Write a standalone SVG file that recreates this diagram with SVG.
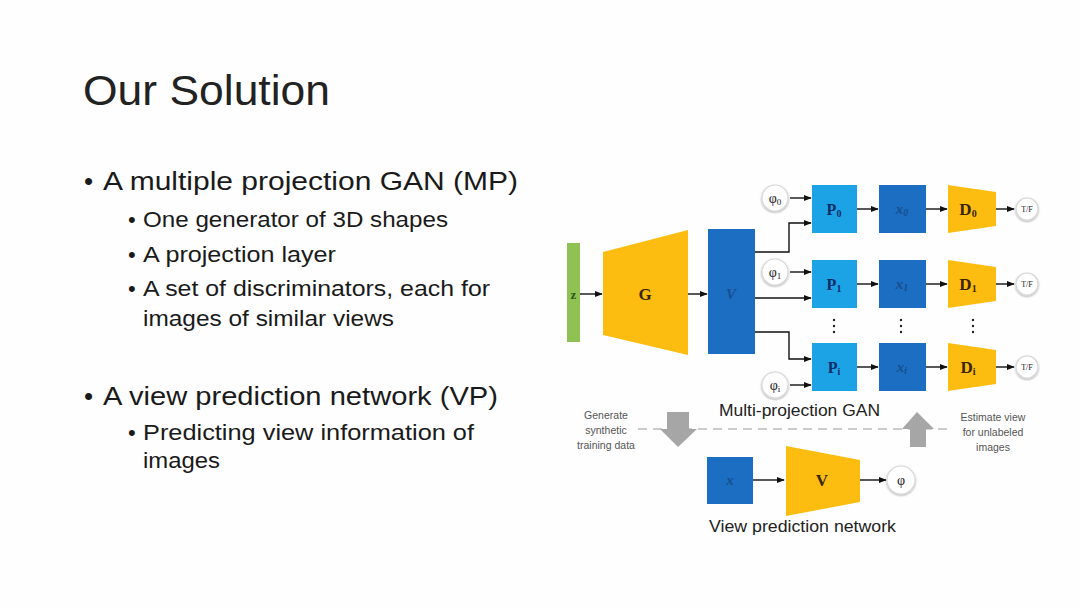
<svg xmlns="http://www.w3.org/2000/svg" width="1080" height="608" viewBox="0 0 1080 608">
<defs>
<marker id="ah" viewBox="0 0 10 10" refX="9" refY="5" markerWidth="8" markerHeight="8" markerUnits="userSpaceOnUse" orient="auto"><path d="M0,1 L10,5 L0,9 z" fill="#111"/></marker>
<filter id="sh" x="-30%" y="-30%" width="160%" height="160%"><feGaussianBlur in="SourceAlpha" stdDeviation="1.2"/><feOffset dx="0" dy="0.5"/><feComponentTransfer><feFuncA type="linear" slope="0.35"/></feComponentTransfer><feMerge><feMergeNode/><feMergeNode in="SourceGraphic"/></feMerge></filter>
</defs>
<style>
.t{font-family:"Liberation Sans",Arial,sans-serif;fill:#1a1a1a}
.h1{font-size:43px;fill:#222}
.b1{font-size:26px}
.b2{font-size:22px}
.cap{font-family:"Liberation Sans",Arial,sans-serif;font-size:16px;fill:#222}
.note{font-family:"Liberation Sans",Arial,sans-serif;font-size:10.5px;fill:#555;text-anchor:middle}
.lbl{font-family:"Liberation Serif","Times New Roman",serif;font-weight:bold;text-anchor:middle}
.yl{fill:#3a2500;font-size:17px}
.pl{fill:#0d2d66;font-size:16px}
.dl{fill:#174f8f;font-size:15px;font-style:italic}
.cir{fill:#fff;stroke:#d8d8d8;stroke-width:1.2}
.ct{font-family:"Liberation Serif","Times New Roman",serif;text-anchor:middle;fill:#222}
.yel{fill:#FDBD10}
.lb{fill:#1CA3E6}
.db{fill:#1B6EC2}
.ln{stroke:#111;stroke-width:1.4;fill:none}
.gray{fill:#a6a6a6}
</style>
<rect width="1080" height="608" fill="#fefefe"/>

<g id="slide-text">
<text class="t h1" x="83" y="105" textLength="247" lengthAdjust="spacingAndGlyphs">Our Solution</text>
<text class="t b1" x="84" y="190">•</text>
<text class="t b1" x="103" y="190" textLength="415" lengthAdjust="spacingAndGlyphs">A multiple projection GAN (MP)</text>
<text class="t b2" x="128" y="227">•</text>
<text class="t b2" x="143" y="227" textLength="305" lengthAdjust="spacingAndGlyphs">One generator of 3D shapes</text>
<text class="t b2" x="128" y="262">•</text>
<text class="t b2" x="143" y="262" textLength="193" lengthAdjust="spacingAndGlyphs">A projection layer</text>
<text class="t b2" x="128" y="296">•</text>
<text class="t b2" x="143" y="296" textLength="347" lengthAdjust="spacingAndGlyphs">A set of discriminators, each for</text>
<text class="t b2" x="143" y="326" textLength="251" lengthAdjust="spacingAndGlyphs">images of similar views</text>
<text class="t b1" x="84" y="405">•</text>
<text class="t b1" x="103" y="405" textLength="395" lengthAdjust="spacingAndGlyphs">A view prediction network (VP)</text>
<text class="t b2" x="128" y="440">•</text>
<text class="t b2" x="143" y="440" textLength="331" lengthAdjust="spacingAndGlyphs">Predicting view information of</text>
<text class="t b2" x="143" y="468" textLength="77" lengthAdjust="spacingAndGlyphs">images</text>
</g>

<g id="connectors">
<line class="ln" x1="580" y1="294" x2="602" y2="294" marker-end="url(#ah)"/>
<line class="ln" x1="688" y1="294" x2="707" y2="294" marker-end="url(#ah)"/>
<polyline class="ln" points="755,252 789,252 789,223 811,223" marker-end="url(#ah)"/>
<line class="ln" x1="755" y1="298" x2="811" y2="298" marker-end="url(#ah)"/>
<polyline class="ln" points="755,332 789,332 789,359 811,359" marker-end="url(#ah)"/>
<line class="ln" x1="790" y1="198" x2="811" y2="198" marker-end="url(#ah)"/>
<line class="ln" x1="790" y1="272" x2="811" y2="272" marker-end="url(#ah)"/>
<line class="ln" x1="790" y1="385" x2="811" y2="385" marker-end="url(#ah)"/>
<line class="ln" x1="857" y1="209" x2="878" y2="209" marker-end="url(#ah)"/>
<line class="ln" x1="857" y1="284" x2="878" y2="284" marker-end="url(#ah)"/>
<line class="ln" x1="857" y1="367" x2="878" y2="367" marker-end="url(#ah)"/>
<line class="ln" x1="926" y1="209" x2="947" y2="209" marker-end="url(#ah)"/>
<line class="ln" x1="926" y1="284" x2="947" y2="284" marker-end="url(#ah)"/>
<line class="ln" x1="926" y1="367" x2="947" y2="367" marker-end="url(#ah)"/>
<line class="ln" x1="996" y1="209" x2="1014" y2="209" marker-end="url(#ah)"/>
<line class="ln" x1="996" y1="284" x2="1014" y2="284" marker-end="url(#ah)"/>
<line class="ln" x1="996" y1="367" x2="1014" y2="367" marker-end="url(#ah)"/>
<line class="ln" x1="753" y1="480" x2="784" y2="480" marker-end="url(#ah)"/>
<line class="ln" x1="860" y1="480" x2="886" y2="480" marker-end="url(#ah)"/>
<line x1="638" y1="429" x2="948" y2="429" stroke="#9a9a9a" stroke-width="1.2" stroke-dasharray="9,6"/>
</g>

<g id="z"><rect x="567" y="243" width="13" height="99" fill="#8FC253"/><text class="lbl" x="573.5" y="299" font-size="13" fill="#2d5a10">z</text></g>
<g id="G"><polygon class="yel" points="603,252 688,230 688,355 603,335"/><text class="lbl yl" x="645" y="300">G</text></g>
<g id="V"><rect class="db" x="708" y="229" width="47" height="125"/><text class="lbl dl" x="731" y="299">V</text></g>

<g id="phi0"><circle class="cir" filter="url(#sh)" cx="775" cy="198" r="13"/><text class="ct" x="775" y="203" font-size="14">φ<tspan font-size="9" dy="2">0</tspan></text></g>
<g id="phi1"><circle class="cir" filter="url(#sh)" cx="775" cy="272" r="13"/><text class="ct" x="775" y="277" font-size="14">φ<tspan font-size="9" dy="2">1</tspan></text></g>
<g id="phii"><circle class="cir" filter="url(#sh)" cx="775" cy="385" r="13"/><text class="ct" x="775" y="390" font-size="14">φ<tspan font-size="9" dy="2">i</tspan></text></g>

<g id="P0"><rect class="lb" x="812" y="185" width="45" height="48"/><text class="lbl pl" x="834" y="215">P<tspan font-size="10" dy="2">0</tspan></text></g>
<g id="P1"><rect class="lb" x="812" y="260" width="45" height="48"/><text class="lbl pl" x="834" y="290">P<tspan font-size="10" dy="2">1</tspan></text></g>
<g id="Pi"><rect class="lb" x="812" y="343" width="45" height="48"/><text class="lbl pl" x="834" y="373">P<tspan font-size="10" dy="2">i</tspan></text></g>

<g id="x0"><rect class="db" x="879" y="185" width="47" height="48"/><text class="lbl dl" x="902" y="214">x<tspan font-size="10" dy="2">0</tspan></text></g>
<g id="x1"><rect class="db" x="879" y="260" width="47" height="48"/><text class="lbl dl" x="902" y="289">x<tspan font-size="10" dy="2">1</tspan></text></g>
<g id="xi"><rect class="db" x="879" y="343" width="47" height="48"/><text class="lbl dl" x="902" y="372">x<tspan font-size="10" dy="2">i</tspan></text></g>

<g id="D0"><polygon class="yel" points="948,185 996,192 996,226 948,233"/><text class="lbl yl" x="968" y="215">D<tspan font-size="10" dy="2">0</tspan></text></g>
<g id="D1"><polygon class="yel" points="948,260 996,267 996,301 948,308"/><text class="lbl yl" x="968" y="290">D<tspan font-size="10" dy="2">1</tspan></text></g>
<g id="Di"><polygon class="yel" points="948,343 996,350 996,384 948,391"/><text class="lbl yl" x="968" y="373">D<tspan font-size="10" dy="2">i</tspan></text></g>

<g id="tf0"><circle class="cir" filter="url(#sh)" cx="1027" cy="209" r="11"/><text class="ct" x="1027" y="212" font-size="8" fill="#555">T/F</text></g>
<g id="tf1"><circle class="cir" filter="url(#sh)" cx="1027" cy="284" r="11"/><text class="ct" x="1027" y="287" font-size="8" fill="#555">T/F</text></g>
<g id="tfi"><circle class="cir" filter="url(#sh)" cx="1027" cy="367" r="11"/><text class="ct" x="1027" y="370" font-size="8" fill="#555">T/F</text></g>

<g id="dots" fill="#222">
<circle cx="834" cy="320" r="1.2"/><circle cx="834" cy="326" r="1.2"/><circle cx="834" cy="332" r="1.2"/>
<circle cx="901" cy="320" r="1.2"/><circle cx="901" cy="326" r="1.2"/><circle cx="901" cy="332" r="1.2"/>
<circle cx="973" cy="320" r="1.2"/><circle cx="973" cy="326" r="1.2"/><circle cx="973" cy="332" r="1.2"/>
</g>

<g id="caption-mp"><text class="cap" x="719" y="416" textLength="161" lengthAdjust="spacingAndGlyphs">Multi-projection GAN</text></g>

<g id="note-generate">
<text class="note" x="606" y="419">Generate</text>
<text class="note" x="606" y="434">synthetic</text>
<text class="note" x="606" y="449">training data</text>
</g>
<g id="note-estimate">
<text class="note" x="993" y="421">Estimate view</text>
<text class="note" x="993" y="436">for unlabeled</text>
<text class="note" x="993" y="451">images</text>
</g>

<g id="arrow-down"><polygon class="gray" points="667,412 689,412 689,429 697,429 678,447 660,429 667,429"/></g>
<g id="arrow-up"><polygon class="gray" points="917,412 934,429 926,429 926,447 910,447 910,429 902,429"/></g>

<g id="vp-x"><rect class="db" x="707" y="457" width="46" height="47"/><text class="lbl dl" x="730" y="485">x</text></g>
<g id="vp-V"><polygon class="yel" points="786,446 860,460 860,502 786,516"/><text class="lbl yl" x="822" y="486">V</text></g>
<g id="phi"><circle class="cir" filter="url(#sh)" cx="901" cy="480" r="14"/><text class="ct" x="901" y="485" font-size="14">φ</text></g>
<g id="caption-vp"><text class="cap" x="709" y="532" textLength="187" lengthAdjust="spacingAndGlyphs">View prediction network</text></g>
</svg>
